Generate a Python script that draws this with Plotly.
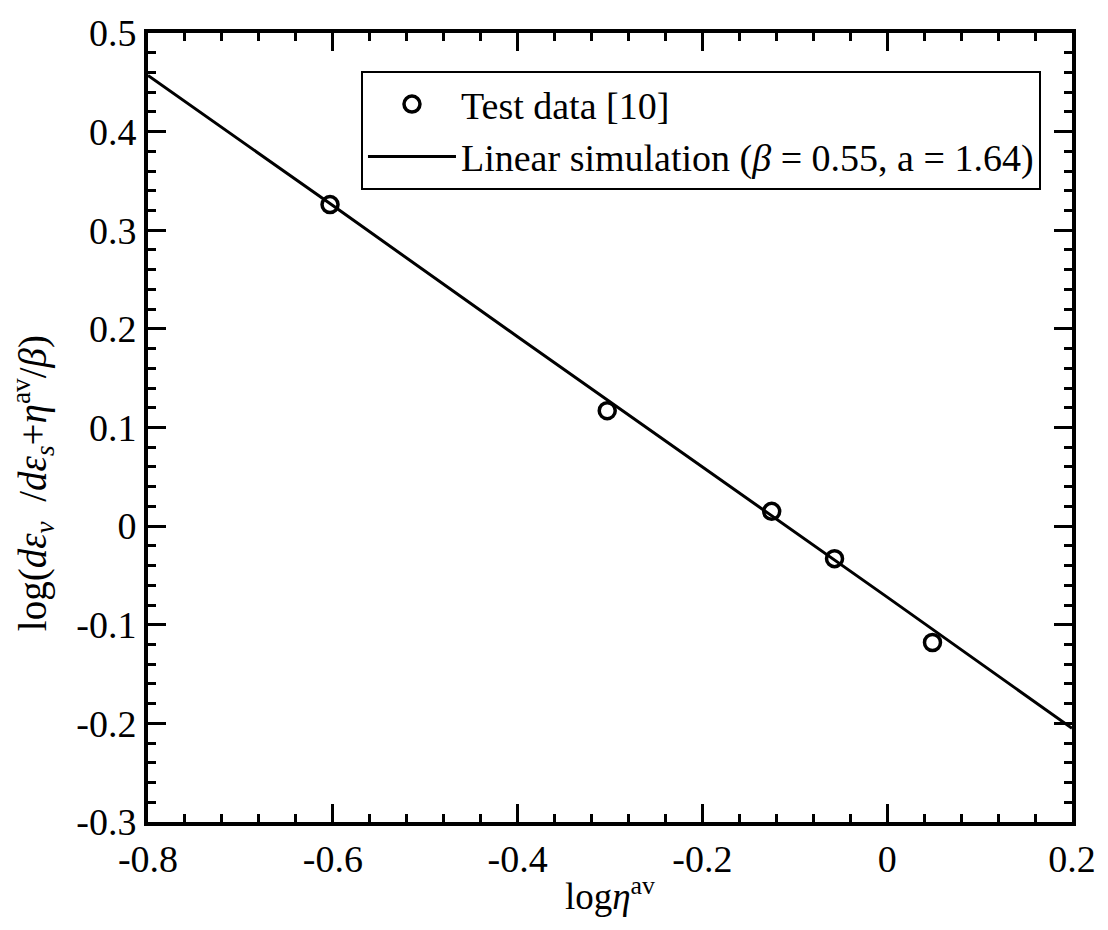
import plotly.graph_objects as go

# Measured points: log(eta_av) vs log(d eps_v / d eps_s + eta_av / beta)
test_x = [-0.603, -0.303, -0.125, -0.057, 0.049]
test_y = [0.326, 0.117, 0.015, -0.033, -0.118]

# Linear simulation (beta = 0.55, a = 1.64)
sim_x = [-0.8, -0.6, -0.4, -0.2, 0.0, 0.2]
sim_y = [0.457, 0.325, 0.192, 0.060, -0.072, -0.205]

# Tick values and labels (plain hyphen for negatives)
x_ticks = [-0.8, -0.6, -0.4, -0.2, 0.0, 0.2]
x_labels = ["-0.8", "-0.6", "-0.4", "-0.2", "0", "0.2"]
y_ticks = [-0.3, -0.2, -0.1, 0.0, 0.1, 0.2, 0.3, 0.4, 0.5]
y_labels = ["-0.3", "-0.2", "-0.1", "0", "0.1", "0.2", "0.3", "0.4", "0.5"]

FONT = "Liberation Serif, Times New Roman, serif"

fig = go.Figure()
fig.add_trace(go.Scatter(
    x=test_x, y=test_y, mode="markers", name="Test data [10]",
    marker=dict(symbol="circle-open", size=16, color="black",
                line=dict(width=3.5, color="black")),
))
fig.add_trace(go.Scatter(
    x=sim_x, y=sim_y, mode="lines",
    name="Linear simulation (<i>β</i> = 0.55, a = 1.64)",
    line=dict(color="black", width=3),
))

axis_common = dict(
    showline=True, linewidth=4, linecolor="black", mirror="ticks",
    ticks="inside", ticklen=18, tickwidth=3, tickcolor="black",
    showgrid=False, zeroline=False, tickmode="array",
    tickfont=dict(family=FONT, size=38, color="black"),
)

fig.update_xaxes(
    range=[-0.8, 0.2], tickvals=x_ticks, ticktext=x_labels,
    minor=dict(ticks="inside", ticklen=8, tickwidth=3, tickcolor="black",
               dtick=0.04, tick0=-0.8, showgrid=False),
    title=dict(text="log<i>η</i><sup>av</sup>",
               font=dict(family=FONT, size=37, color="black"), standoff=6),
    **axis_common,
)
fig.update_yaxes(
    range=[-0.3, 0.5], tickvals=y_ticks, ticktext=y_labels,
    minor=dict(ticks="inside", ticklen=8, tickwidth=3, tickcolor="black",
               dtick=0.02, tick0=-0.3, showgrid=False),
    **axis_common,
)

# Vertical axis title, placed as a rotated annotation
fig.add_annotation(
    text="log(<i>dε</i><sub><i>v</i></sub>  /<i>dε</i><sub><i>s</i></sub>+<i>η</i><sup>av</sup>/<i>β</i>)",
    xref="paper", yref="paper", x=-0.124, y=0.430,
    xanchor="center", yanchor="middle", textangle=-90, showarrow=False,
    font=dict(family=FONT, size=39, color="black"),
)

fig.update_layout(
    width=1108, height=930,
    margin=dict(l=148, r=30, t=25, b=108),
    paper_bgcolor="white", plot_bgcolor="white",
    font=dict(family=FONT, color="black"),
    showlegend=True,
    legend=dict(
        x=0.2305, y=0.952, xanchor="left", yanchor="top",
        bgcolor="white", bordercolor="black", borderwidth=2,
        font=dict(family=FONT, size=38, color="black"),
        itemwidth=88, tracegroupgap=0,
    ),
)

fig.write_html("out.html")
